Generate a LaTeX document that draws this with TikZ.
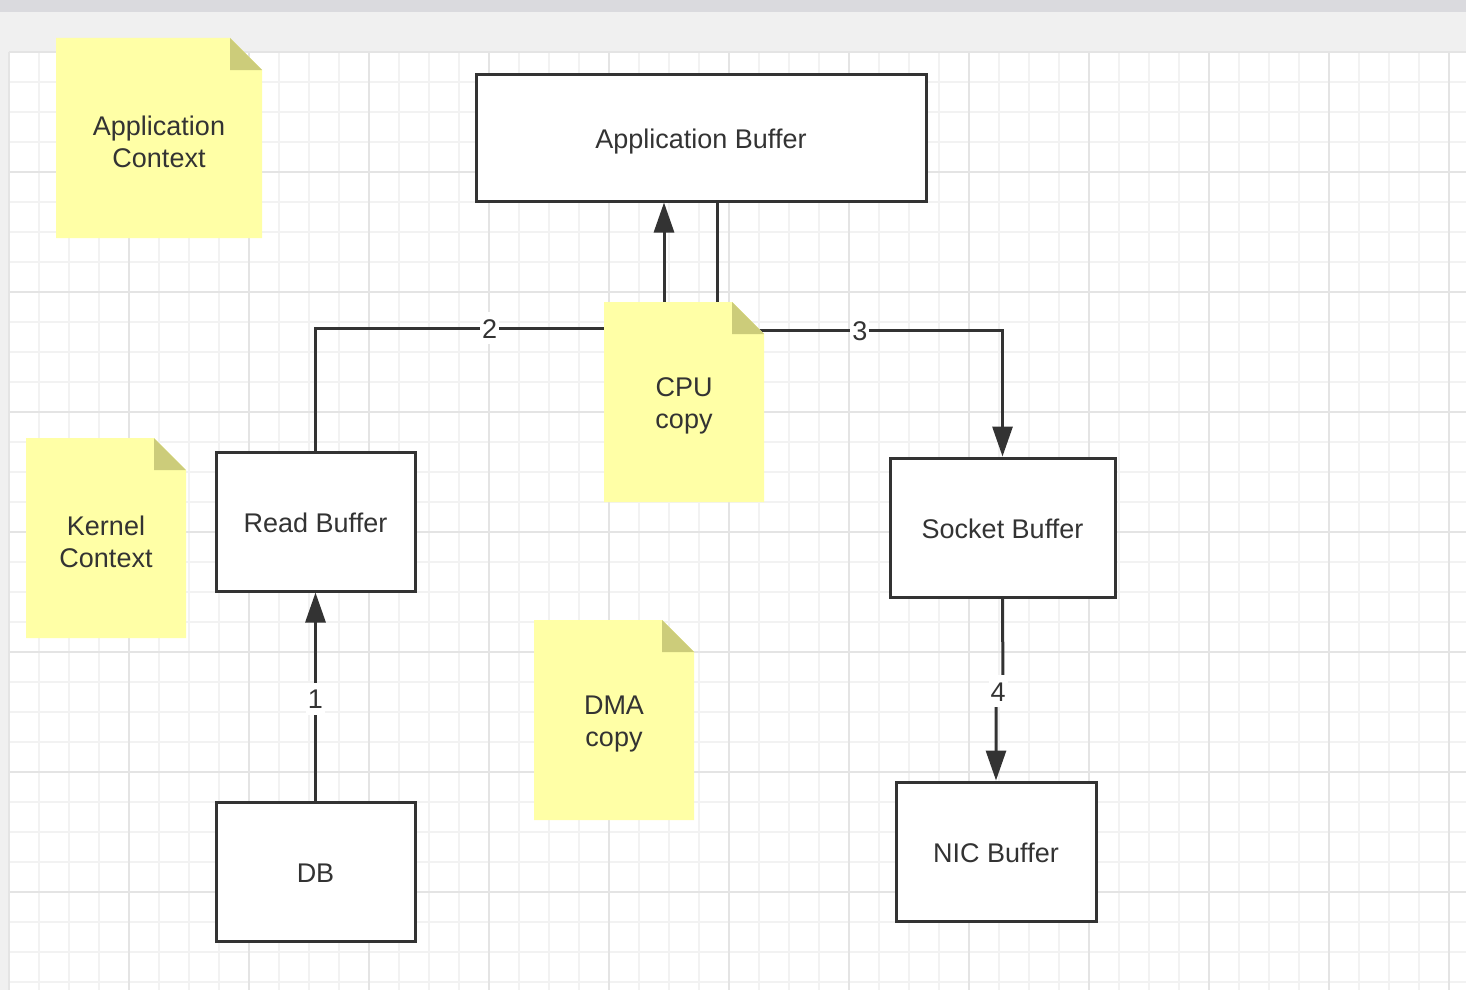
\documentclass[tikz,border=0pt]{standalone}
\usepackage{fontspec}
\setmainfont{Liberation Sans}
\usetikzlibrary{arrows.meta}
\definecolor{ink}{HTML}{333333}
\definecolor{notefill}{HTML}{FFFFA6}
\definecolor{foldfill}{HTML}{CCCC7A}
\definecolor{gridminor}{HTML}{F2F2F2}
\definecolor{gridmajor}{HTML}{E4E4E4}
\definecolor{chrome}{HTML}{F0F0F0}
\definecolor{topband}{HTML}{DADADE}
\tikzset{
  txt/.style={text=ink, font=\fontsize{27}{32}\selectfont},
  box/.style={txt, draw=ink, line width=3pt, fill=white, rectangle, inner sep=0pt, text height=21pt, text depth=0pt},
  conn/.style={draw=ink, line width=3pt},
  arr/.style={-{Triangle[length=30pt,width=20pt]}},
  lbl/.style={txt, fill=white, inner xsep=2pt, inner ysep=6pt, text height=20pt, text depth=0pt},
  notetext/.style={txt, align=center, inner sep=0pt},
  minorline/.style={draw=gridminor, line width=2pt},
  majorline/.style={draw=gridmajor, line width=2pt},
}
\newcommand\stickynote[6]{%
  \fill[notefill] (#2,#3) -- ({#2+#4-32},#3) -- ({#2+#4},{#3+32}) -- ({#2+#4},{#3+#5}) -- (#2,{#3+#5}) -- cycle;
  \fill[foldfill] ({#2+#4-32},#3) -- ({#2+#4-32},{#3+32}) -- ({#2+#4},{#3+32}) -- cycle;
  \node[notetext] (#1) at ({#2+#4/2},{#3+#5/2+4}) {#6};
}
\begin{document}
\begin{tikzpicture}[x=1pt,y=-1pt]
\useasboundingbox (0,0) rectangle (1466,990);
% chrome and canvas
\fill[chrome] (0,0) rectangle (1466,990);
\fill[topband] (0,0) rectangle (1466,12);
\fill[white] (9,52) rectangle (1466,990);
\foreach \i in {0,...,48} {\draw[minorline] ({9+30*\i},52) -- ({9+30*\i},990);}
\foreach \j in {0,...,31} {\draw[minorline] (9,{52+30*\j}) -- (1466,{52+30*\j});}
\foreach \i in {0,...,12} {\draw[majorline] ({9+120*\i},52) -- ({9+120*\i},990);}
\foreach \j in {0,...,7} {\draw[majorline] (9,{52+120*\j}) -- (1466,{52+120*\j});}

% boxes
\node[box, minimum width=450pt, minimum height=127pt] (AB) at (701,137.5) {Application Buffer};
\node[box, minimum width=199pt, minimum height=139pt] (RB) at (315.5,521.5) {Read Buffer};
\node[box, minimum width=225pt, minimum height=139pt] (SB) at (1002.5,527.5) {Socket Buffer};
\node[box, minimum width=199pt, minimum height=139pt] (DB) at (315.5,871.5) {DB};
\node[box, minimum width=200pt, minimum height=139pt] (NIC) at (996,851.5) {NIC Buffer};

% connectors
\coordinate (c2) at (664,328);
\coordinate (c3) at (717,330);
\coordinate (c4a) at (1003,691);
\coordinate (c4b) at (996,691);
\draw[conn, arr] (DB.north) -- node[lbl, pos=0.49] {1} (RB.south);
\draw[conn, arr] (RB.north) |- node[lbl, pos=0.75] {2} (c2) -- (c2 |- AB.south);
\draw[conn, arr] (c3 |- AB.south) -- (c3) -| node[lbl, pos=0.25] {3} (SB.north);
\draw[conn, arr] (SB.south) -- (c4a) -- (c4b) -- (NIC.north);
\node[lbl] (l4) at (998,691) {4};

% sticky notes
\stickynote{appctx}{56}{38}{206}{200}{Application\\Context}
\stickynote{kctx}{26}{438}{160}{200}{Kernel\\Context}
\stickynote{cpu}{604}{302}{160}{200}{CPU\\copy}
\stickynote{dma}{534}{620}{160}{200}{DMA\\copy}
\end{tikzpicture}
\end{document}
